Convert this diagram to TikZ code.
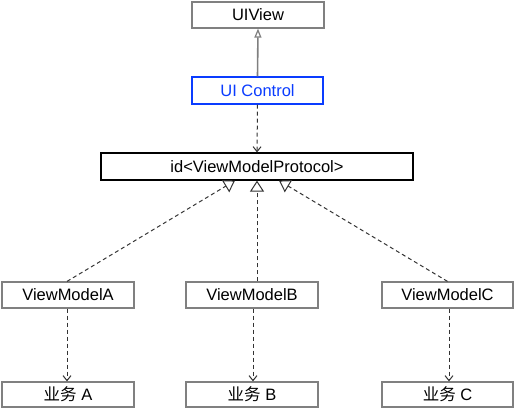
\documentclass[tikz,border=0pt]{standalone}
\usepackage{fontspec}
\setmainfont{Liberation Sans}
\newfontfamily\cjkfont{Noto Sans CJK SC}
\usetikzlibrary{arrows.meta}
\definecolor{boxgray}{HTML}{808080}
\definecolor{linegray}{HTML}{7F7F7F}
\definecolor{ctrlblue}{HTML}{0A3CFF}
\definecolor{dashgray}{HTML}{333333}
\begin{document}
\begin{tikzpicture}[x=1pt,y=-1pt,
  box/.style={draw=boxgray, line width=1.2pt, minimum height=26pt, inner sep=0pt, font=\fontsize{16.5}{18}\selectfont, fill=white},
  dep/.style={draw=dashgray, line width=1pt, dash pattern=on 4pt off 3pt, -{Straight Barb[length=5pt,width=8pt]}},
  real/.style={draw=dashgray, line width=1pt, dash pattern=on 4pt off 3pt, -{Triangle[open, length=11pt, width=14pt, fill=white]}},
  inh/.style={draw=linegray, line width=1.6pt, -{Triangle[open, length=9pt, width=7pt, fill=white, line width=1.2pt]}}
]
\useasboundingbox (0,0) rectangle (516,409);
\node[box, minimum width=132pt] (uiview) at (258,15) {UIView};
\node[box, draw=ctrlblue, text=ctrlblue, minimum width=131pt, minimum height=27pt] (uictrl) at (257.5,90.5) {UI Control};
\node[box, draw=black, minimum width=312pt, minimum height=27pt] (id) at (257,166.5) {id<ViewModelProtocol>};
\node[box, minimum width=132pt] (vmA) at (68,295) {ViewModelA};
\node[box, minimum width=132pt] (vmB) at (252,295) {ViewModelB};
\node[box, minimum width=131pt] (vmC) at (447.5,295) {ViewModelC};
\node[box, minimum width=132pt, minimum height=25pt] (bA) at (68,394.5) {{\cjkfont 业务} A};
\node[box, minimum width=132pt, minimum height=25pt] (bB) at (252,394.5) {{\cjkfont 业务} B};
\node[box, minimum width=131pt, minimum height=25pt] (bC) at (447.5,394.5) {{\cjkfont 业务} C};

\coordinate (idA) at ([xshift=-22pt]id.south);
\coordinate (idB) at (id.south);
\coordinate (idC) at ([xshift=22pt]id.south);

\draw[inh] (uictrl.north) -- (uiview.south);
\draw[dep] (uictrl.south) -- (id.north);
\draw[real] ([xshift=-1pt]vmA.north) -- (idA);
\draw[real] ([xshift=5pt]vmB.north) -- (idB);
\draw[real] (vmC.north) -- (idC);
\draw[dep] ([xshift=-1pt]vmA.south) -- ([xshift=-1pt]bA.north);
\draw[dep] ([xshift=1pt]vmB.south) -- ([xshift=1pt]bB.north);
\draw[dep] ([xshift=1.5pt]vmC.south) -- ([xshift=1.5pt]bC.north);
\end{tikzpicture}
\end{document}
